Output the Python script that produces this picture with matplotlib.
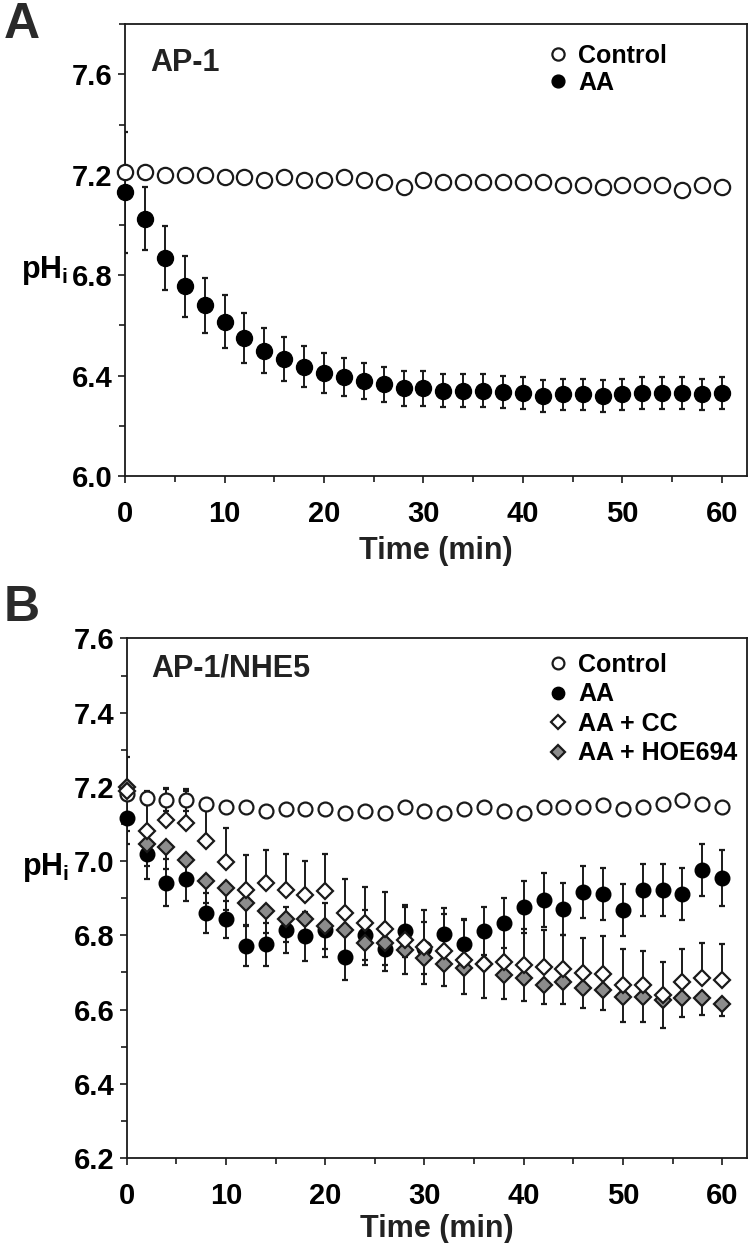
import matplotlib
matplotlib.use('Agg')
import matplotlib.pyplot as plt
from matplotlib.ticker import MultipleLocator
import numpy as np

plt.rcParams['font.family'] = ['Liberation Sans', 'DejaVu Sans']
plt.rcParams['font.weight'] = 'bold'
plt.rcParams['mathtext.fontset'] = 'custom'
plt.rcParams['mathtext.rm'] = 'Liberation Sans:bold'
plt.rcParams['mathtext.it'] = 'Liberation Sans:bold'
plt.rcParams['mathtext.bf'] = 'Liberation Sans:bold'

time = np.arange(0, 61, 2)

# panel A (AP-1)
a_control = [7.21, 7.21, 7.20, 7.20, 7.20, 7.19, 7.19, 7.18, 7.19, 7.18, 7.18,
             7.19, 7.18, 7.17, 7.15, 7.18, 7.17, 7.17, 7.17, 7.17, 7.17, 7.17,
             7.16, 7.16, 7.15, 7.16, 7.16, 7.16, 7.14, 7.16, 7.15]
a_aa = [7.13, 7.025, 6.87, 6.755, 6.68, 6.615, 6.55, 6.50, 6.465, 6.435, 6.41,
        6.395, 6.38, 6.365, 6.35, 6.35, 6.34, 6.34, 6.34, 6.335, 6.33, 6.32,
        6.325, 6.325, 6.32, 6.325, 6.33, 6.33, 6.33, 6.325, 6.33]
a_aa_err = [0.24, 0.125, 0.127, 0.12, 0.11, 0.105, 0.10, 0.09, 0.088, 0.082, 0.08,
            0.075, 0.072, 0.07, 0.07, 0.07, 0.065, 0.065, 0.065, 0.065, 0.063, 0.063,
            0.063, 0.063, 0.063, 0.063, 0.063, 0.063, 0.063, 0.063, 0.063]

# panel B (AP-1/NHE5)
b_control = [7.18, 7.17, 7.165, 7.165, 7.155, 7.145, 7.145, 7.135, 7.14, 7.14, 7.14,
             7.13, 7.135, 7.13, 7.145, 7.135, 7.13, 7.14, 7.145, 7.135, 7.13, 7.145,
             7.145, 7.145, 7.15, 7.14, 7.145, 7.155, 7.165, 7.155, 7.145]
b_control_err = [0.1, 0.02, 0.03, 0.03, 0.01, 0.01, 0.01, 0.01, 0.01, 0.01, 0.01,
                 0.01, 0.01, 0.01, 0.01, 0.01, 0.01, 0.01, 0.01, 0.01, 0.01, 0.01,
                 0.01, 0.01, 0.01, 0.01, 0.01, 0.01, 0.01, 0.01, 0.01]
b_aa = [7.117, 7.018, 6.942, 6.953, 6.86, 6.843, 6.771, 6.776, 6.814, 6.798, 6.814,
        6.742, 6.80, 6.763, 6.811, 6.765, 6.803, 6.776, 6.812, 6.833, 6.877, 6.896,
        6.872, 6.917, 6.911, 6.869, 6.923, 6.923, 6.911, 6.977, 6.955]
b_aa_err = [0.07, 0.065, 0.064, 0.06, 0.053, 0.05, 0.055, 0.058, 0.063, 0.066, 0.072,
            0.063, 0.067, 0.06, 0.07, 0.07, 0.07, 0.066, 0.065, 0.067, 0.07, 0.073,
            0.07, 0.071, 0.07, 0.07, 0.07, 0.07, 0.07, 0.07, 0.075]
b_cc = [7.19, 7.081, 7.11, 7.103, 7.053, 6.998, 6.923, 6.941, 6.923, 6.908, 6.92,
        6.859, 6.832, 6.818, 6.787, 6.769, 6.758, 6.733, 6.724, 6.727, 6.721, 6.715,
        6.708, 6.699, 6.697, 6.666, 6.666, 6.639, 6.675, 6.684, 6.679]
b_cc_err = [0.0, 0.09, 0.086, 0.086, 0.11, 0.09, 0.093, 0.09, 0.095, 0.092, 0.1,
            0.092, 0.097, 0.1, 0.09, 0.1, 0.1, 0.11, 0.1, 0.1, 0.095, 0.098,
            0.094, 0.095, 0.1, 0.096, 0.092, 0.088, 0.089, 0.096, 0.097]
b_hoe = [7.20, 7.047, 7.038, 7.002, 6.946, 6.928, 6.887, 6.865, 6.843, 6.845, 6.824,
         6.815, 6.78, 6.78, 6.76, 6.74, 6.724, 6.711, 6.722, 6.693, 6.684, 6.666,
         6.675, 6.659, 6.652, 6.634, 6.634, 6.627, 6.632, 6.632, 6.616]
b_hoe_err = [0.08, 0.06, 0.06, 0.06, 0.06, 0.06, 0.06, 0.06, 0.06, 0.06, 0.06,
             0.06, 0.06, 0.06, 0.065, 0.07, 0.06, 0.07, 0.09, 0.065, 0.06, 0.052,
             0.06, 0.054, 0.054, 0.067, 0.067, 0.078, 0.053, 0.047, 0.034]

fig = plt.figure(figsize=(7.5, 12.43), dpi=100)
ax1 = fig.add_axes([0.1667, 0.617, 0.829, 0.3636])
ax2 = fig.add_axes([0.169, 0.0684, 0.827, 0.418])

ink = '#1a1a1a'
ebkw = dict(fmt='none', ecolor=ink, elinewidth=1.4, capsize=2.5, capthick=1.6)


def style(ax, ylo, yhi, ymaj, ymin, lpad):
    ax.set_xlim(0, 62.5)
    ax.set_ylim(ylo, yhi)
    ax.xaxis.set_major_locator(MultipleLocator(10))
    ax.xaxis.set_minor_locator(MultipleLocator(5))
    ax.yaxis.set_major_locator(MultipleLocator(ymaj))
    ax.yaxis.set_minor_locator(MultipleLocator(ymin))
    ax.yaxis.set_major_formatter(plt.FormatStrFormatter('%.1f'))
    for s in ax.spines.values():
        s.set_linewidth(1.3)
        s.set_color(ink)
    ax.tick_params(which='both', direction='out', width=1.2, color=ink,
                   labelsize=21, labelcolor='black', pad=4)
    ax.tick_params(axis='x', which='major', pad=12)
    ax.tick_params(which='major', length=5)
    ax.tick_params(which='minor', length=4)
    ax.set_xlabel('Time (min)', fontsize=22, fontweight='bold', labelpad=lpad,
                  color='#222222')


# ---- panel A
ax1.errorbar(time, a_aa, yerr=a_aa_err, zorder=2, **ebkw)
ax1.plot(time, a_control, 'o', ms=11, mfc='white', mec=ink, mew=1.6,
         ls='none', label='Control', zorder=3, clip_on=False)
ax1.plot(time, a_aa, 'o', ms=11.5, mfc='black', mec='black', mew=1,
         ls='none', label='AA', zorder=4, clip_on=False)
style(ax1, 6.0, 7.8, 0.4, 0.2, 6)
ax1.text(0.04, 0.915, 'AP-1', transform=ax1.transAxes, fontsize=22,
         fontweight='bold', color='#222222', va='center')
ax1.text(-0.13, 0.455, r'pH$_\mathregular{i}$', transform=ax1.transAxes,
         fontsize=22, fontweight='bold', ha='center', va='center')
ax1.legend(loc='upper right', bbox_to_anchor=(0.9, 0.995), frameon=False,
           fontsize=18, handletextpad=0.2, labelspacing=0.12,
           handlelength=1.2, borderaxespad=0.3, markerscale=0.8)

# ---- panel B
ax2.errorbar(time, b_control, yerr=b_control_err, zorder=2, **ebkw)
ax2.errorbar(time, b_aa, yerr=b_aa_err, zorder=2, **ebkw)
ax2.errorbar(time, b_cc, yerr=[np.zeros(len(b_cc)), b_cc_err], zorder=2, **ebkw)
ax2.errorbar(time, b_hoe, yerr=[b_hoe_err, np.zeros(len(b_hoe))], zorder=2, **ebkw)
ax2.plot(time, b_control, 'o', ms=10, mfc='white', mec=ink, mew=1.6,
         ls='none', label='Control', zorder=3, clip_on=False)
ax2.plot(time, b_aa, 'o', ms=10.5, mfc='black', mec='black', mew=1,
         ls='none', label='AA', zorder=4, clip_on=False)
ax2.plot(time, b_hoe, 'D', ms=8.5, mfc='#8c8c8c', mec=ink, mew=1.6,
         ls='none', label='AA + HOE694', zorder=5, clip_on=False)
ax2.plot(time, b_cc, 'D', ms=8.5, mfc='white', mec=ink, mew=1.6,
         ls='none', label='AA + CC', zorder=6, clip_on=False)
style(ax2, 6.2, 7.6, 0.2, 0.1, 3)
ax2.text(0.04, 0.942, 'AP-1/NHE5', transform=ax2.transAxes, fontsize=22,
         fontweight='bold', color='#222222', va='center')
ax2.text(-0.13, 0.56, r'pH$_\mathregular{i}$', transform=ax2.transAxes,
         fontsize=22, fontweight='bold', ha='center', va='center')
h, l = ax2.get_legend_handles_labels()
order = [0, 1, 3, 2]
ax2.legend([h[i] for i in order], [l[i] for i in order], loc='upper right',
           bbox_to_anchor=(1.013, 1.006), frameon=False, fontsize=18,
           handletextpad=0.2, labelspacing=0.22, handlelength=1.2,
           borderaxespad=0.3, markerscale=0.85)

fig.text(0.005, 0.98, 'A', fontsize=36, fontweight='bold', color='#2a2a2a',
         va='center', ha='left')
fig.text(0.005, 0.511, 'B', fontsize=36, fontweight='bold', color='#2a2a2a',
         va='center', ha='left')

fig.savefig('out.png', dpi=100)
